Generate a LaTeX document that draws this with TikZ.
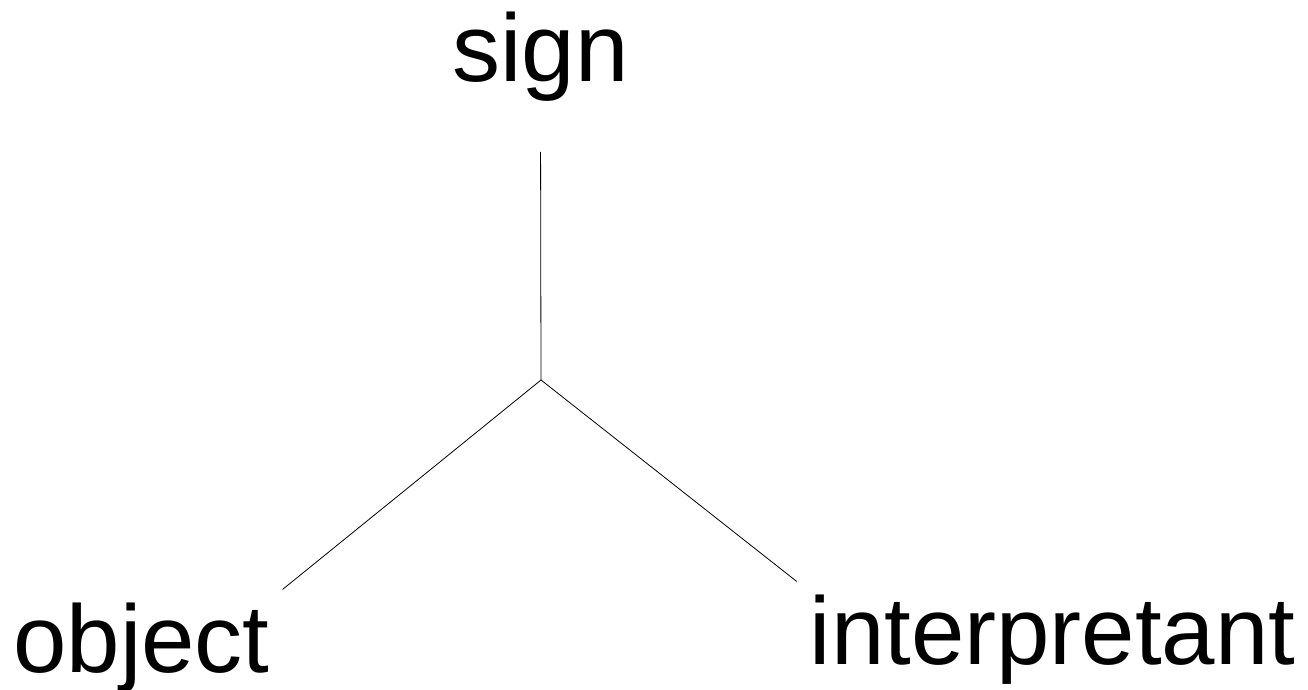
\documentclass[tikz,border=0pt]{standalone}
\usepackage{fontspec}
\setmainfont{Liberation Sans}
\usepackage{tikz}

\begin{document}
\begin{tikzpicture}[x=1pt, y=-1pt, line width=0.8pt,
    every node/.style={inner sep=0pt, outer sep=13pt, anchor=base,
      font=\fontsize{96}{110}\selectfont}]
            \useasboundingbox (0, 0) rectangle (1308, 690);

            \node (sign) at (540.5, 82) {sign};
            \node (obj) at (141.5, 672) {object};
            \node (interp) at (1052.5, 664) {interpretant};
            \coordinate (hub) at (541, 380);

            \draw[shorten <=37pt] (sign.south) -- (hub);
            \draw (hub) -- (obj.north east);
            \draw (hub) -- (interp.north west);
        \end{tikzpicture}
\end{document}
